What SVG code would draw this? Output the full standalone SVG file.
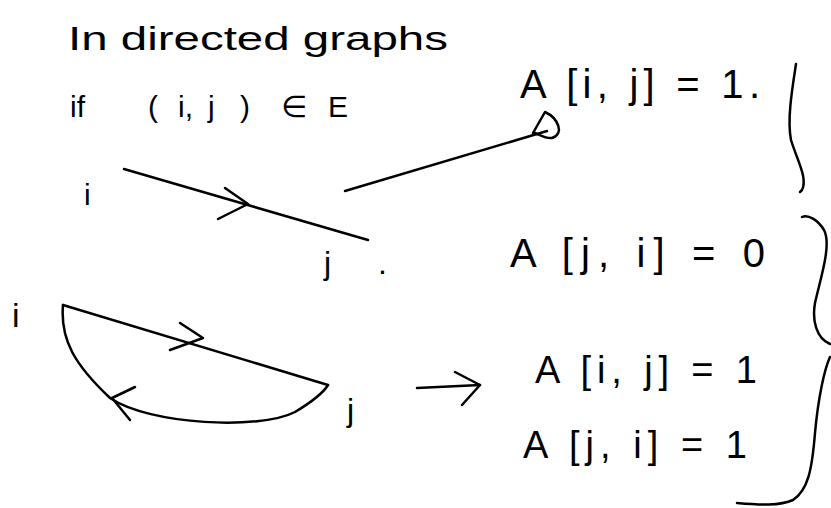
<svg xmlns="http://www.w3.org/2000/svg" width="831" height="508" viewBox="0 0 831 508">
<style>
.ink{fill:none;stroke:#000;stroke-width:2.5;stroke-linecap:round;stroke-linejoin:round}
.t{font-family:"Liberation Sans","DejaVu Sans",sans-serif;fill:#000}
</style>
<rect width="831" height="508" fill="#fff"/>
<g id="title">
<text class="t" x="68" y="50" font-size="34" textLength="380" lengthAdjust="spacingAndGlyphs">In directed graphs</text>
<text class="t" y="117" font-size="30"><tspan x="70">if</tspan><tspan x="148">(</tspan><tspan x="178">i,</tspan><tspan x="208">j</tspan><tspan x="240">)</tspan><tspan x="281">∈</tspan><tspan x="328">E</tspan></text>
</g>
<g id="node-i1"><text class="t" x="84" y="205" font-size="30">i</text></g>
<g id="node-j1"><text class="t" y="274" font-size="32"><tspan x="324">j</tspan><tspan x="378">.</tspan></text></g>
<g id="node-i2"><text class="t" x="12" y="327" font-size="34">i</text></g>
<g id="node-j2"><text class="t" x="347" y="421" font-size="32">j</text></g>
<g id="labels">
<text class="t" x="520" y="98" font-size="40" textLength="240" lengthAdjust="spacing">A [i, j] = 1.</text>
<text class="t" x="510" y="267" font-size="40" textLength="255" lengthAdjust="spacing">A [j, i] = 0</text>
<text class="t" x="535" y="383" font-size="38" textLength="222" lengthAdjust="spacing">A [i, j] = 1</text>
<text class="t" x="523" y="458" font-size="38" textLength="224" lengthAdjust="spacing">A [j, i] = 1</text>
</g>
<g id="connectors">
<path class="ink" d="M124,169 L368,240"/>
<path class="ink" d="M225,188 L248,204 L218,219"/>
<path class="ink" d="M345,191 L547,131"/>
<path class="ink" d="M533,133 L545,112 C558,118 565,134 552,138 C546,139 540,135 535,133"/>
<path class="ink" d="M63,305 L328,385"/>
<path class="ink" d="M180,323 L203,338 L170,350"/>
<path class="ink" d="M63,305 C60,340 75,365 110,398 C150,425 260,430 295,412 C315,400 325,390 328,385"/>
<path class="ink" d="M135,387 L112,398 L130,420"/>
<path class="ink" d="M417,388 L480,385"/>
<path class="ink" d="M455,372 L480,385 L462,405"/>
</g>
<g id="braces">
<path class="ink" d="M796,64 C792,90 787,120 791,140 C797,160 808,178 802,190 L800,192"/>
<path class="ink" d="M802,217 C808,214 818,220 824,230 C832,245 820,280 815,303 C812,320 816,338 830,344"/>
<path class="ink" d="M830,357 C824,370 818,400 815,433 C812,470 808,490 793,500 C780,506 760,505 737,503"/>
</g>
</svg>
